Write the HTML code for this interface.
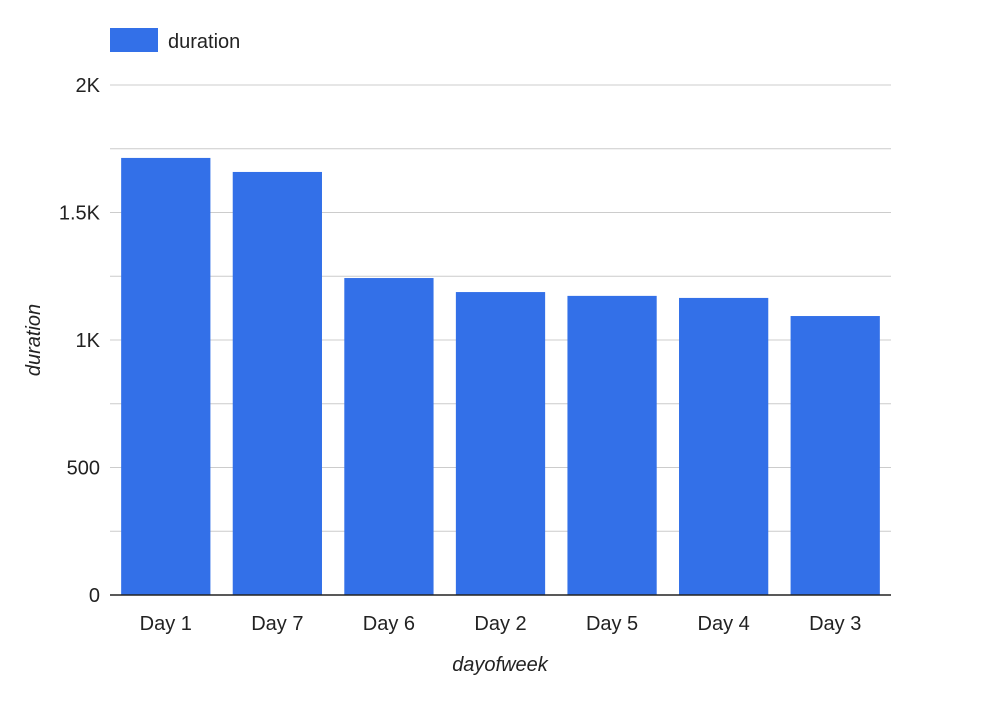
<!DOCTYPE html>
<html><head><meta charset="utf-8"><style>
body{margin:0;background:#fff;}
svg text{font-family:"Liberation Sans",Roboto,sans-serif;fill:#222;}
</style></head><body>
<svg id="chart" width="990" height="714" xmlns="http://www.w3.org/2000/svg">
<rect x="110" y="28" width="48" height="24" fill="#3370e8"/>
<text x="168" y="48" font-size="20">duration</text>
<g id="grid"></g>
<g id="bars"></g>
<g id="xlabels"></g>
<line x1="110" y1="595" x2="891" y2="595" stroke="#222" stroke-width="1.5"/>
<text x="40" y="340" font-size="20" font-style="italic" text-anchor="middle" transform="rotate(-90 40 340)">duration</text>
<text x="500" y="671" font-size="20" font-style="italic" text-anchor="middle">dayofweek</text>
</svg>
<script>
const categories=["Day 1","Day 7","Day 6","Day 2","Day 5","Day 4","Day 3"];
const values=[1714,1659,1243,1188,1173,1165,1094];
const tickValues=[0,500,1000,1500,2000];
const tickLabels=["0","500","1K","1.5K","2K"];
const NS="http://www.w3.org/2000/svg";
const x0=110,x1=891,y0=595,y1=85,maxV=2000;
const y=v=>y0-(v/maxV)*(y0-y1);
const band=(x1-x0)/categories.length;
const grid=document.getElementById('grid');
for(let v=250;v<=maxV;v+=250){
 const l=document.createElementNS(NS,'line');
 l.setAttribute('x1',x0);l.setAttribute('x2',x1);l.setAttribute('y1',y(v));l.setAttribute('y2',y(v));
 l.setAttribute('stroke','#ccc');l.setAttribute('stroke-width','1');
 
 
 grid.appendChild(l);
}
tickValues.forEach((v,i)=>{
 const t=document.createElementNS(NS,'text');
 t.setAttribute('x',100);t.setAttribute('y',y(v)+7);t.setAttribute('text-anchor','end');t.setAttribute('font-size','20');
 t.textContent=tickLabels[i];
 
 
 grid.appendChild(t);
});
const bars=document.getElementById('bars'),xl=document.getElementById('xlabels');
categories.forEach((c,i)=>{
 const bw=band*0.8,bx=x0+i*band+(band-bw)/2;
 const r=document.createElementNS(NS,'rect');
 r.setAttribute('x',bx);r.setAttribute('width',bw);r.setAttribute('y',y(values[i]));r.setAttribute('height',y0-y(values[i]));
 r.setAttribute('fill','#3370e8');
 
 
 bars.appendChild(r);
 const t=document.createElementNS(NS,'text');
 t.setAttribute('x',x0+i*band+band/2);t.setAttribute('y',630);t.setAttribute('text-anchor','middle');t.setAttribute('font-size','20');
 t.textContent=c;
 
 
 xl.appendChild(t);
});
</script>
</body></html>
